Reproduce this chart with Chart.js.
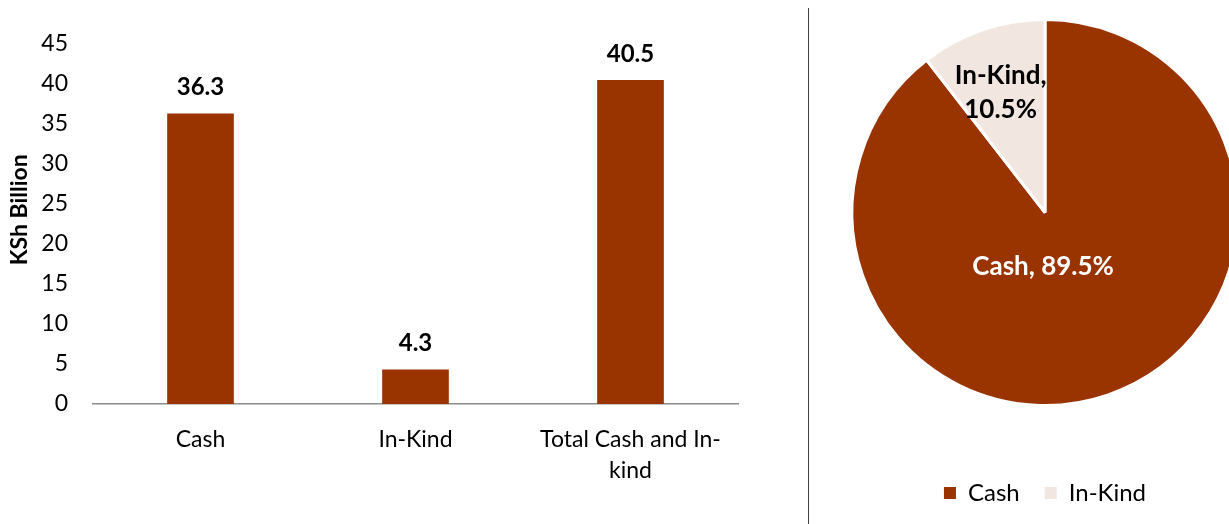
<!DOCTYPE html>
<html>
<head>
<meta charset="utf-8">
<script src="https://cdn.jsdelivr.net/npm/chart.js@4.4.1/dist/chart.umd.min.js"></script>
<style>
  html, body { margin: 0; padding: 0; background: #fff; overflow: hidden; }
  body { width: 1229px; height: 524px; position: relative; }
  #barBox { position: absolute; left: 0; top: 0; width: 790px; height: 524px; }
  #pieBox { position: absolute; left: 820px; top: -31px; width: 450px; height: 546px; }
  #divider { position: absolute; left: 808px; top: 8px; width: 1px; height: 516px; background: #404040; }
</style>
</head>
<body>
<div id="barBox"><canvas id="barChart"></canvas></div>
<div id="divider"></div>
<div id="pieBox"><canvas id="pieChart"></canvas></div>
<script>
// bar chart data (KSh billion)
const barLabels = ['Cash', 'In-Kind', ['Total Cash and In-', 'kind']];
const barValues = [36.3, 4.3, 40.5];
const yMin = 0;
const yMax = 45;
const yStep = 5;

// pie chart data (share of total, %)
const pieLabels = ['Cash', 'In-Kind'];
const pieShares = [89.5, 10.5];

const brown = '#993300';
const blush = '#f2e6e1';

Chart.defaults.font.family = 'Lato, "Noto Sans", sans-serif';
Chart.defaults.color = '#000';

// value labels above each bar
const barValueLabels = {
  id: 'barValueLabels',
  afterDatasetsDraw(chart) {
    const ctx = chart.ctx;
    const meta = chart.getDatasetMeta(0);
    ctx.save();
    ctx.font = 'bold 24px Lato';
    ctx.fillStyle = '#000';
    ctx.textAlign = 'center';
    ctx.textBaseline = 'middle';
    meta.data.forEach((bar, i) => {
      ctx.fillText(barValues[i].toFixed(1), bar.x, bar.y - 26);
    });
    ctx.restore();
  }
};

// slice labels, offset from the pie centre in units of the radius
const sliceLabelPos = [[-0.01, 0.28], [-0.23, -0.62]];
const sliceLabelColor = ['#fff', '#000'];
const pieSliceLabels = {
  id: 'pieSliceLabels',
  afterDatasetsDraw(chart) {
    const ctx = chart.ctx;
    const meta = chart.getDatasetMeta(0);
    ctx.save();
    ctx.font = 'bold 26px Lato';
    ctx.textAlign = 'center';
    ctx.textBaseline = 'middle';
    meta.data.forEach((arc, i) => {
      const r = arc.outerRadius;
      const x = arc.x + sliceLabelPos[i][0] * r;
      const y = arc.y + sliceLabelPos[i][1] * r;
      ctx.fillStyle = sliceLabelColor[i];
      if (i === 1) {
        ctx.fillText(pieLabels[i] + ',', x, y - 17);
        ctx.fillText(pieShares[i].toFixed(1) + '%', x, y + 17);
      } else {
        ctx.fillText(pieLabels[i] + ', ' + pieShares[i].toFixed(1) + '%', x, y);
      }
    });
    ctx.restore();
  }
};

new Chart(document.getElementById('barChart'), {
  type: 'bar',
  data: {
    labels: barLabels,
    datasets: [{
      data: barValues,
      backgroundColor: brown,
      barPercentage: 0.31,
      categoryPercentage: 1
    }]
  },
  options: {
    responsive: true,
    maintainAspectRatio: false,
    animation: false,
    layout: { padding: { top: 44, right: 52, bottom: 0, left: 0 } },
    plugins: {
      legend: { display: false },
      tooltip: { enabled: false }
    },
    scales: {
      x: {
        grid: { display: false, drawTicks: false },
        border: { color: '#8c8c8c', width: 1.5 },
        ticks: {
          color: '#000',
          font: { size: 23, lineHeight: 1.35 },
          padding: 20,
          maxRotation: 0,
          autoSkip: false
        },
        afterFit(scale) { scale.height = 120; }
      },
      y: {
        min: yMin,
        max: yMax,
        grid: { display: false, drawTicks: false },
        border: { display: false },
        ticks: { stepSize: yStep, color: '#000', font: { size: 23 }, padding: 25 },
        title: {
          display: true,
          // leading spaces lift the rotated title a little above the axis middle
          text: '\u2002\u2002 KSh Billion',
          color: '#000',
          font: { size: 23, weight: 'bold' },
          padding: { top: 6, bottom: 0 }
        },
        afterFit(scale) { scale.width = 93; }
      }
    }
  },
  plugins: [barValueLabels]
});

new Chart(document.getElementById('pieChart'), {
  type: 'pie',
  data: {
    labels: pieLabels,
    datasets: [{
      data: pieShares,
      backgroundColor: [brown, blush],
      borderColor: '#fff',
      borderWidth: 3,
      radius: 193
    }]
  },
  options: {
    responsive: true,
    maintainAspectRatio: false,
    animation: false,
    plugins: {
      legend: {
        position: 'bottom',
        labels: {
          boxWidth: 12,
          boxHeight: 12,
          padding: 25,
          color: '#000',
          font: { size: 24 },
          generateLabels(chart) {
            return Chart.overrides.pie.plugins.legend.labels.generateLabels(chart)
              .map(item => ({ ...item, lineWidth: 0 }));
          }
        }
      },
      tooltip: { enabled: false }
    }
  },
  plugins: [pieSliceLabels]
});
</script>
</body>
</html>
